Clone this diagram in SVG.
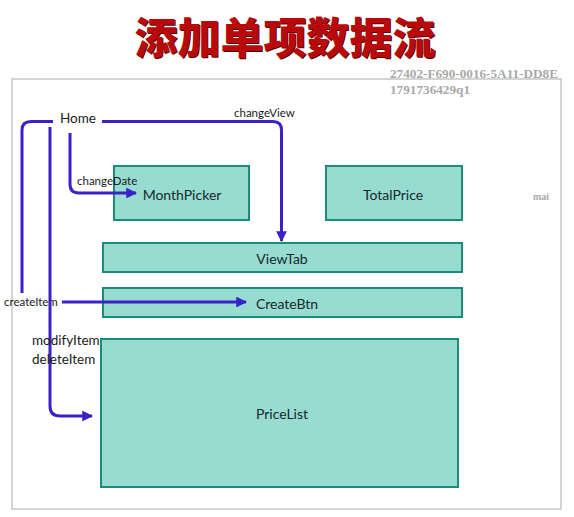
<svg xmlns="http://www.w3.org/2000/svg" width="574" height="517" viewBox="0 0 574 517">
<style>
.box{fill:#97dcd1;stroke:#1e8b78;stroke-width:2}
.lbl{font-family:Lato,"Open Sans","Liberation Sans",sans-serif;font-size:14px;fill:#14282a;text-anchor:middle;dominant-baseline:central}
.ev{font-family:Lato,"Open Sans","Liberation Sans",sans-serif;font-size:11.5px;fill:#1a1a1a}
.side{font-family:Lato,"Open Sans","Liberation Sans",sans-serif;font-size:13.5px;fill:#1a1a1a}
.wm{font-family:"Liberation Serif",serif;font-weight:bold;fill:#a9a9a9}
.line{fill:none;stroke:#3a22c8;stroke-width:3;stroke-linejoin:round}
.title{font-family:"Noto Sans CJK SC",sans-serif;font-weight:900;font-size:43px;text-anchor:middle}
</style>
<defs>
<marker id="ah" viewBox="0 0 10 10" refX="9" refY="5" markerWidth="3.6" markerHeight="3.6" markerUnits="strokeWidth" orient="auto">
<path d="M0,0 L10,5 L0,10 Z" fill="#3a22c8"/>
</marker>
</defs>
<rect width="574" height="517" fill="#ffffff"/>
<text class="title" x="286" y="55" fill="#5a0000">添加单项数据流</text>
<text class="title" x="285" y="54" fill="#b80a0a">添加单项数据流</text>
<rect x="12" y="79" width="549" height="430" fill="none" stroke="#c6c6c6" stroke-width="1.5"/>
<text class="wm" x="390" y="78" font-size="13" textLength="168" lengthAdjust="spacingAndGlyphs">27402-F690-0016-5A11-DD8E</text>
<text class="wm" x="390" y="94" font-size="13" textLength="80" lengthAdjust="spacingAndGlyphs">1791736429q1</text>
<text class="wm" x="533" y="200" font-size="10" font-weight="normal">mai</text>
<g id="home"><text class="side" x="60" y="123">Home</text></g>
<g id="monthpicker"><rect class="box" x="114" y="166" width="135" height="54"/><text class="lbl" x="182" y="194">MonthPicker</text></g>
<g id="totalprice"><rect class="box" x="326" y="166" width="136" height="54"/><text class="lbl" x="393" y="194">TotalPrice</text></g>
<g id="viewtab"><rect class="box" x="103" y="243" width="359" height="29"/><text class="lbl" x="282" y="258">ViewTab</text></g>
<g id="createbtn"><rect class="box" x="103" y="288" width="359" height="29"/><text class="lbl" x="287" y="303">CreateBtn</text></g>
<g id="pricelist"><rect class="box" x="101" y="339" width="357" height="148"/><text class="lbl" x="282" y="413">PriceList</text></g>
<g id="connectors">
<path class="line" d="M102,121.5 H273 Q281.5,121.5 281.5,130 V241" marker-end="url(#ah)"/>
<text class="ev" x="234" y="117">changeView</text>
<path class="line" d="M70,133 V184 Q70,193 79,193 H136" marker-end="url(#ah)"/>
<text class="ev" x="77" y="185">changeDate</text>
<path class="line" d="M53,121.5 H31 Q22,121.5 22,130 V293"/>
<text class="ev" x="4" y="306">createItem</text>
<path class="line" d="M62,302 H246" marker-end="url(#ah)"/>
<path class="line" d="M50,127 V406 Q50,416 60,416 H92" marker-end="url(#ah)"/>
<text class="side" x="32" y="345">modifyItem</text>
<text class="side" x="32" y="364">deleteItem</text>
</g>
</svg>
